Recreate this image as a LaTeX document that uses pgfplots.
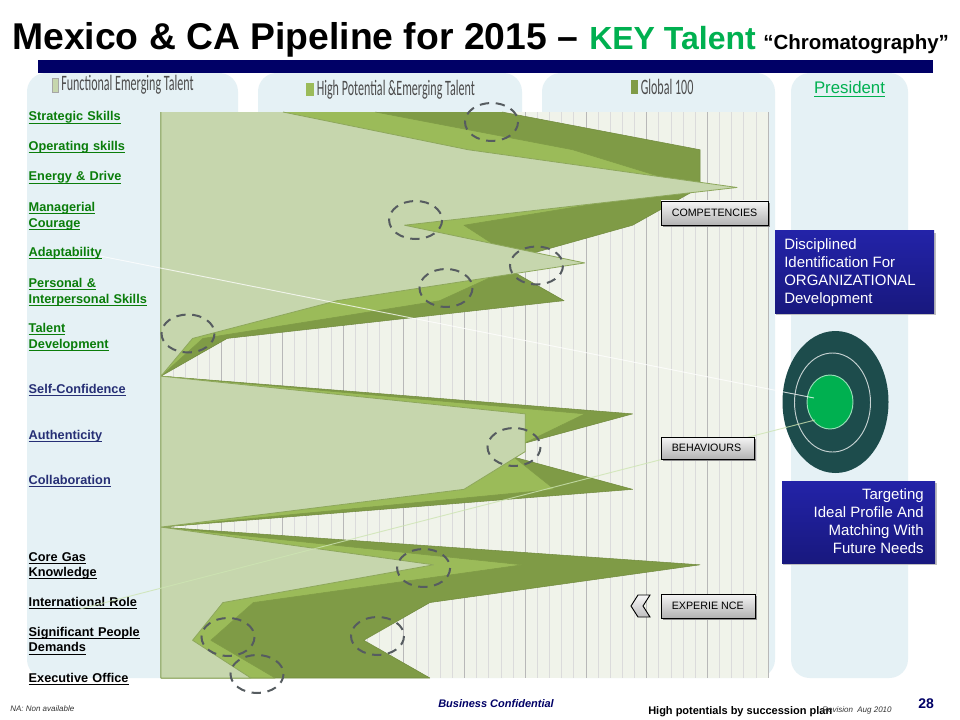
\documentclass[border=0pt]{standalone}
\usepackage{fontspec}
\usepackage{pgfplots}
\usepackage{pgfplotstable}
\pgfplotsset{compat=1.18}
\setmainfont{Liberation Sans}
\newfontfamily\carlito{Carlito}

\definecolor{panel}{HTML}{E5F1F5}
\definecolor{plotbg}{HTML}{F0F3EA}
\definecolor{lightarea}{HTML}{C6D6AD}
\definecolor{medarea}{HTML}{9BBB59}
\definecolor{darkarea}{HTML}{7F9B46}
\definecolor{keygreen}{HTML}{00B050}
\definecolor{navybar}{HTML}{000066}
\definecolor{lblgreen}{HTML}{0A7D0A}
\definecolor{lblnavy}{HTML}{262F75}
\definecolor{target}{HTML}{1D4C4C}
\definecolor{ringdash}{HTML}{565C60}
\definecolor{boxtop}{HTML}{2323A8}
\definecolor{boxbot}{HTML}{18187E}

\newcommand\ul[1]{\underline{\vphantom{A}\smash{#1}}}
\newcommand\px[1]{\fontsize{\fpeval{#1*0.75}}{\fpeval{#1*0.9}}\selectfont}

% row 0..15, top to bottom; last two rows close the areas on the left edge
\pgfplotstableread{
idx light medium dark
0   20.1  35.3   56.2
1   50.6  67.8   88.8
2   94.9  88.0   88.8
3   40.1  49.9   77.7
4   69.8  59.5   55.5
5   29.0  45.9   66.4
6   5.2   6.9    10.9
7   0     0      0
8   60.0  69.8   77.7
9   60.0  57.0   54.8
10  49.9  64.8   77.7
11  0     0      0
12  44.9  59.5   88.8
13  10.2  15.2   44.3
14  5.2   8.2    33.4
15  14.8  18.8   44.3
15  0     0      0
0   0     0      0
}\pipeline

\tikzset{
  pix/.style={x=0.75pt,y=-0.75pt},
  tagbox/.style={draw=black,line width=0.7pt,top color=black!4,bottom color=black!30},
  bluebox/.style={top color=boxtop,bottom color=boxbot},
  ring/.style={draw=ringdash,line width=1.5pt,dash pattern=on 7pt off 5pt},
}

\begin{document}
\begin{tikzpicture}
\begin{scope}[pix]
  \useasboundingbox (0,0) rectangle (960,720);
  \fill[white] (0,0) rectangle (960,720);
  % column panels
  \fill[panel,rounded corners=14pt] (27,73) rectangle (238,678);
  \fill[panel,rounded corners=14pt] (258,73) rectangle (522,678);
  \fill[panel,rounded corners=14pt] (542,73) rectangle (775,678);
  \fill[panel,rounded corners=14pt] (791,73) rectangle (908,678);
  \fill[navybar] (38,60) rectangle (933,73);
  % title
  \node[anchor=base west,inner sep=0,font=\px{37.3}\bfseries] at (12,50) {Mexico \& CA Pipeline for 2015 --};
  \node[anchor=base west,inner sep=0,font=\px{32}\bfseries,text=keygreen] at (589,50) {KEY Talent};
  \node[anchor=base west,inner sep=0,font=\px{20.5}\bfseries] at (763,50) {``Chromatography''};
  % column heads
  \fill[lightarea,draw=black!35] (52,78) rectangle (58,92);
  \node[anchor=west,inner sep=0,font=\carlito\px{22},text=black!70] at (61,85) {\scalebox{0.548}[1]{Functional Emerging Talent}};
  \fill[medarea] (306,83) rectangle (313.5,96);
  \node[anchor=west,inner sep=0,font=\carlito\px{22},text=black!70] at (316.5,90) {\scalebox{0.548}[1]{High Potential \&Emerging Talent}};
  \fill[darkarea] (631,80) rectangle (638,94);
  \node[anchor=west,inner sep=0,font=\carlito\px{22},text=black!70] at (640.5,87) {\scalebox{0.548}[1]{Global 100}};
  \node[anchor=base,inner sep=0,font=\px{16.8},text=keygreen] at (849.5,94) {\underline{President}};
\end{scope}

\begin{axis}[
  at={(120.75pt,-508.5pt)},anchor=south west,
  scale only axis,width=455.25pt,height=424.5pt,clip=false,
  xmin=0,xmax=100,ymin=0,ymax=15,y dir=reverse,
  xtick distance=10,minor x tick num=4,xticklabels={},
  xmajorgrids,xminorgrids,
  major grid style={draw=black!28,line width=0.5pt},
  minor grid style={draw=black!14,line width=0.5pt},
  major tick length=0pt,minor tick length=0pt,
  axis line style={draw=none},
  axis background/.style={fill=plotbg},
  ytick={0.125,0.914,1.715,2.73,3.724,4.744,5.937,7.342,8.561,9.753,12,12.99,13.99,15},
  yticklabels={
    {\color{lblgreen}\ul{Strategic Skills}},
    {\color{lblgreen}\ul{Operating skills}},
    {\color{lblgreen}\ul{Energy \& Drive}},
    {\color{lblgreen}\ul{Managerial}\\\ul{Courage}},
    {\color{lblgreen}\ul{Adaptability}},
    {\color{lblgreen}\ul{Personal \&}\\\ul{Interpersonal Skills}},
    {\color{lblgreen}\ul{Talent}\\\ul{Development}},
    {\color{lblnavy}\ul{Self-Confidence}},
    {\color{lblnavy}\ul{Authenticity}},
    {\color{lblnavy}\ul{Collaboration}},
    {\ul{Core Gas}\\\ul{Knowledge}},
    {\ul{International Role}},
    {\ul{Significant People}\\\ul{Demands}},
    {\ul{Executive Office}}},
  yticklabel style={anchor=east,inner sep=0pt,text width=99pt,align=left,yshift=-0.9pt,
    font=\bfseries\fontsize{9.55}{11.7}\selectfont},
]
\addplot[fill=darkarea,draw=darkarea!90!black,line width=0.4pt,line join=round] table[x=dark,y=idx] {\pipeline};
\addplot[fill=medarea,draw=darkarea,line width=0.4pt,line join=round] table[x=medium,y=idx] {\pipeline};
\addplot[fill=lightarea,draw=darkarea!80!lightarea,line width=0.6pt,line join=round] table[x=light,y=idx] {\pipeline};
\end{axis}

\begin{scope}[pix]
  % target
  \fill[target] (835.5,402) ellipse [x radius=53,y radius=71];
  \draw[white!75!target,line width=0.7pt] (832.5,402.5) ellipse [x radius=38,y radius=49.5];
  \draw[white!60!keygreen,line width=0.7pt,fill=keygreen] (830,402) ellipse [x radius=23,y radius=27];
  % leader lines
  \draw[white,opacity=0.75,line width=0.7pt] (100,256) -- (814,398);
  \draw[green!30!olive!30!white,opacity=0.8,line width=0.7pt] (80,609) -- (815,420);
  % dashed rings
  \foreach \cx/\cy in {491.5/122,415.6/220,536.5/265.5,446/288,188/333.5,514/447,423.6/568,377.5/636,228/637,257/674}
    \draw[ring] (\cx,\cy) ellipse [x radius=26.5,y radius=19];
  % tags
  \foreach \xa/\ya/\xb/\yb/\t in {661/201/768/225/COMPETENCIES,661/437/754/459/BEHAVIOURS,661/594/755/618/EXPERIE NCE}{
    \fill[black!45] (\xa+2,\ya+2) rectangle (\xb+2,\yb+2);
    \draw[tagbox] (\xa,\ya) rectangle (\xb,\yb);
    \node[anchor=west,inner sep=0,font=\px{10.7}] at (\xa+10.5,{(\ya+\yb)/2}) {\t};
  }
  \draw[line width=0.7pt,top color=black!3,bottom color=black!25] (631,606) -- (638,595) -- (650,595) -- (643,606) -- (650,617) -- (638,617) -- cycle;
  % blue boxes
  \fill[black!25] (776,233) rectangle (936,315);
  \fill[bluebox] (775,231) rectangle (934,313);
  \node[anchor=north west,inner sep=0,align=left,text=white,font=\px{15}] at (784,238) {\baselineskip=13.2pt Disciplined\\Identification For\\ORGANIZATIONAL\\Development};
  \fill[black!25] (783,483) rectangle (937,565);
  \fill[bluebox] (782,481) rectangle (935,563);
  \node[anchor=north east,inner sep=0,align=right,text=white,font=\px{15}] at (924,488) {\baselineskip=13.2pt Targeting\\Ideal Profile And\\Matching With\\Future Needs};
  % footer
  \node[anchor=base west,inner sep=0,font=\px{8}\itshape,text=black!80] at (10,711) {NA: Non available};
  \node[anchor=base west,inner sep=0,font=\px{11}\bfseries\itshape,text=navybar] at (438,707) {Business Confidential};
  \node[anchor=base west,inner sep=0,font=\px{11}\bfseries] at (648,714) {High potentials by succession plan};
  \node[anchor=base west,inner sep=0,font=\px{8}\itshape,text=black!80] at (822,712) {Revision\ \ Aug 2010};
  \node[anchor=base west,inner sep=0,font=\px{14}\bfseries,text=navybar] at (918,708) {28};
\end{scope}
\end{tikzpicture}
\end{document}
